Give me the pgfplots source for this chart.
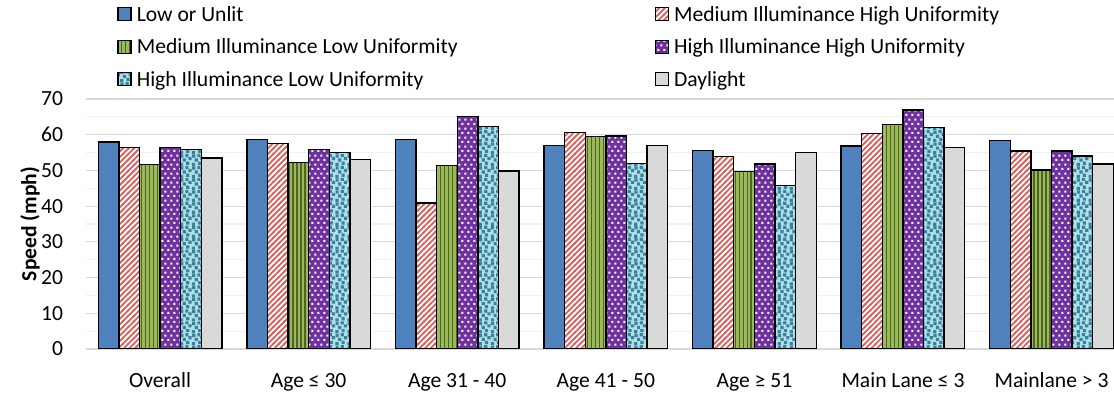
\documentclass[border=0pt]{standalone}
\usepackage{pgfplots}
\pgfplotsset{compat=1.18}
\usepackage{fontspec}
\setmainfont{Carlito}
\usetikzlibrary{patterns}
\definecolor{cblue}{HTML}{4F81BD}
\definecolor{cred}{HTML}{D9625E}
\definecolor{cgreen}{HTML}{9BBB59}
\definecolor{cdkgreen}{HTML}{4F6228}
\definecolor{cpurple}{HTML}{7030A0}
\definecolor{ccyan}{HTML}{B7DEE8}
\definecolor{cteal}{HTML}{31859C}
\definecolor{cgray}{HTML}{D9D9D9}
\definecolor{gridmaj}{HTML}{D9D9D9}
\definecolor{gridmin}{HTML}{F0F0F0}

\pgfdeclarepatternformonly{diagstripes}{\pgfqpoint{-1pt}{-1pt}}{\pgfqpoint{4pt}{4pt}}{\pgfqpoint{2.8pt}{2.8pt}}{%
  \pgfsetlinewidth{0.9pt}%
  \pgfpathmoveto{\pgfqpoint{-0.3pt}{-0.3pt}}%
  \pgfpathlineto{\pgfqpoint{3.1pt}{3.1pt}}%
  \pgfusepath{stroke}}
\pgfdeclarepatternformonly{vstripes}{\pgfqpoint{-0.5pt}{-0.5pt}}{\pgfqpoint{2.5pt}{2.5pt}}{\pgfqpoint{2pt}{2pt}}{%
  \pgfsetlinewidth{0.7pt}%
  \pgfpathmoveto{\pgfqpoint{1pt}{-0.5pt}}%
  \pgfpathlineto{\pgfqpoint{1pt}{2.5pt}}%
  \pgfusepath{stroke}}
\pgfdeclarepatternformonly{bigdots}{\pgfqpoint{0pt}{0pt}}{\pgfqpoint{3pt}{4.4pt}}{\pgfqpoint{3pt}{4.4pt}}{%
  \pgfpathrectangle{\pgfqpoint{0.25pt}{0.6pt}}{\pgfqpoint{1pt}{1pt}}%
  \pgfpathrectangle{\pgfqpoint{1.75pt}{2.8pt}}{\pgfqpoint{1pt}{1pt}}%
  \pgfusepath{fill}}
\pgfdeclarepatternformonly{confetti}{\pgfqpoint{-1pt}{-1pt}}{\pgfqpoint{7pt}{7pt}}{\pgfqpoint{6pt}{6pt}}{%
  \pgfpathrectangle{\pgfqpoint{0.3pt}{0.4pt}}{\pgfqpoint{1.6pt}{1.6pt}}%
  \pgfpathrectangle{\pgfqpoint{3.4pt}{1.0pt}}{\pgfqpoint{1.6pt}{1.6pt}}%
  \pgfpathrectangle{\pgfqpoint{1.7pt}{2.6pt}}{\pgfqpoint{1.6pt}{1.6pt}}%
  \pgfpathrectangle{\pgfqpoint{4.6pt}{3.4pt}}{\pgfqpoint{1.6pt}{1.6pt}}%
  \pgfpathrectangle{\pgfqpoint{0.4pt}{4.6pt}}{\pgfqpoint{1.6pt}{1.6pt}}%
  \pgfpathrectangle{\pgfqpoint{3.0pt}{4.9pt}}{\pgfqpoint{1.6pt}{1.6pt}}%
  \pgfusepath{fill}}

\begin{document}
\begin{tikzpicture}[font=\fontsize{10.8bp}{12bp}\selectfont]
\begin{axis}[
  at={(0,0)}, anchor=south west,
  scale only axis,
  width=514bp, height=125bp,
  xmin=-0.498, xmax=6.42,
  ymin=0, ymax=70,
  ytick={0,10,...,70},
  minor ytick={5,15,...,65},
  ymajorgrids, yminorgrids,
  major grid style={draw=gridmaj, line width=0.6bp},
  minor grid style={draw=gridmin, line width=0.6bp},
  axis line style={draw=none},
  major tick length=0pt, minor tick length=0pt,
  xtick={0,1,2,3,4,5,6},
  xticklabels={Overall, Age ≤ 30, Age 31 - 40, Age 41 - 50, Age ≥ 51, Main Lane ≤ 3, Mainlane > 3},
  xticklabel style={anchor=base, yshift=-19bp, inner sep=0pt},
  yticklabel style={anchor=east, inner sep=0pt, xshift=-11.3bp},
  /pgf/number format/assume math mode=true,
  ylabel={\bfseries Speed (mph)},
  ylabel style={at={(rel axis cs:-0.0545,0.5)}, anchor=center, rotate=0},
  ybar=0pt, bar width=10.3bp,
  legend columns=2,
  legend style={at={(rel axis cs:0.0302,1.373)}, anchor=north west, draw=none, fill=none, inner sep=0pt,
    row sep=6.25bp,
    cells={anchor=base west},
    nodes={inner xsep=2.5bp, inner ysep=0pt, text height=7.5bp, text depth=2.5bp, anchor=base west},
    /tikz/every even column/.append style={column sep=96bp}},
  legend image code/.code={\draw[#1] (0bp,0.2bp) rectangle (6.5bp,6.7bp);},
]
\addplot[draw=black, line width=0.7bp, fill=cblue] coordinates {(0,58.0) (1,58.6) (2,58.6) (3,57.0) (4,55.6) (5,56.8) (6,58.3)};
\addlegendentry{Low or Unlit}
\addplot[draw=black, line width=0.7bp, preaction={fill=white}, pattern=diagstripes, pattern color=cred] coordinates {(0,56.4) (1,57.6) (2,40.9) (3,60.7) (4,53.9) (5,60.4) (6,55.4)};
\addlegendentry{Medium Illuminance High Uniformity}
\addplot[draw=black, line width=0.7bp, preaction={fill=cgreen}, pattern=vstripes, pattern color=cdkgreen] coordinates {(0,51.7) (1,52.2) (2,51.3) (3,59.5) (4,49.7) (5,62.9) (6,50.1)};
\addlegendentry{Medium Illuminance Low Uniformity}
\addplot[draw=black, line width=0.7bp, preaction={fill=cpurple}, pattern=bigdots, pattern color=white] coordinates {(0,56.4) (1,55.9) (2,65.1) (3,59.6) (4,51.8) (5,66.9) (6,55.4)};
\addlegendentry{High Illuminance High Uniformity}
\addplot[draw=black, line width=0.7bp, preaction={fill=ccyan}, pattern=confetti, pattern color=cteal] coordinates {(0,55.8) (1,55.0) (2,62.3) (3,51.9) (4,45.7) (5,62.0) (6,54.0)};
\addlegendentry{High Illuminance Low Uniformity}
\addplot[draw=black, line width=0.7bp, fill=cgray] coordinates {(0,53.5) (1,53.0) (2,49.8) (3,56.9) (4,55.0) (5,56.4) (6,51.8)};
\addlegendentry{Daylight}
\end{axis}
\pgfresetboundingbox
\useasboundingbox (-43bp,-22.5bp) rectangle (514bp,174.5bp);
\end{tikzpicture}
\end{document}
